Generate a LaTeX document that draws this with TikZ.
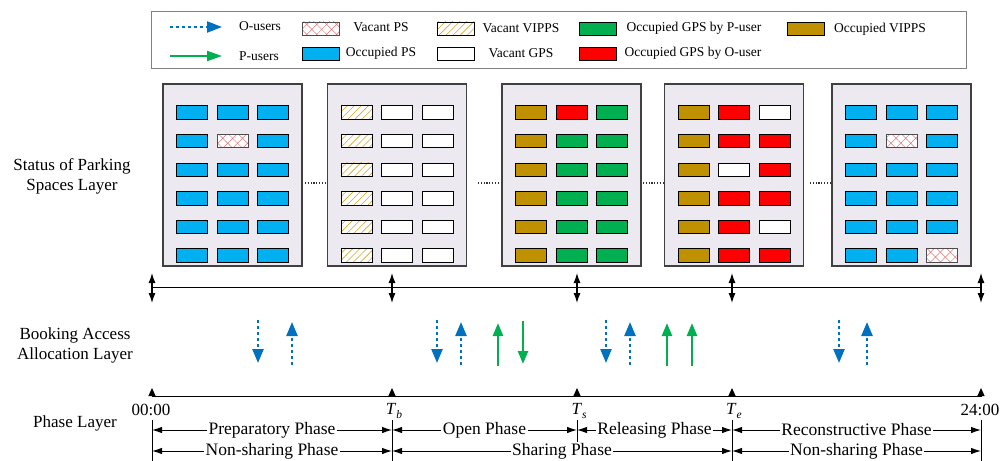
\documentclass[tikz,border=0pt]{standalone}
\usepackage{fontspec}
\setmainfont{Liberation Serif}
\usetikzlibrary{arrows.meta,patterns.meta}
\definecolor{psblue}{HTML}{00B0F0}
\definecolor{ugreen}{HTML}{00B050}
\definecolor{ured}{HTML}{FF0000}
\definecolor{vipgold}{HTML}{BF9000}
\definecolor{oblue}{HTML}{0070C0}
\definecolor{panelbg}{HTML}{ECE9F1}
\definecolor{hatchred}{HTML}{E07A7A}
\definecolor{hatchgold}{HTML}{D4A52C}

\tikzset{
  slot/.style={draw=black, line width=0.9pt, minimum width=31pt, minimum height=13.5pt, inner sep=0pt, outer sep=0pt},
  OP/.style={slot, fill=psblue},
  VP/.style={slot, draw=black!70, preaction={fill=white}, pattern={Hatch[angle=45,distance=7pt,line width=0.5pt]}, pattern color=hatchred},
  VV/.style={slot, preaction={fill=white}, pattern={Lines[angle=45,distance=5pt,line width=0.6pt]}, pattern color=hatchgold},
  VG/.style={slot, fill=white},
  GP/.style={slot, fill=ugreen},
  GO/.style={slot, fill=ured},
  OV/.style={slot, fill=vipgold},
  swatch/.style={minimum width=37pt, minimum height=13pt},
  panel/.style={draw=black!75, line width=1.1pt, fill=panelbg, minimum width=139pt, minimum height=182pt, inner sep=0pt},
  legtext/.style={font=\fontsize{13.5}{16}\selectfont, inner sep=0pt},
  lbl/.style={font=\fontsize{17}{20}\selectfont, align=center, inner sep=0pt},
  ptext/.style={font=\fontsize{17.5}{20}\selectfont, fill=white, inner sep=1.5pt},
  odash/.style={oblue, line width=2.4pt, dash pattern=on 3pt off 3pt, -{Triangle[length=14pt,width=11pt]}},
  pgreen/.style={ugreen, line width=2.4pt, -{Triangle[length=13pt,width=10pt]}},
  vtick/.style={black, line width=1.2pt, {Latex[length=10pt,width=7pt]}-{Latex[length=10pt,width=7pt]}},
  utick/.style={black, line width=1pt, -{Triangle[length=8pt,width=7pt]}},
  phasearr/.style={line width=1pt, {Latex[length=10pt,width=6.5pt]}-{Latex[length=10pt,width=6.5pt]}},
  dotline/.style={line width=1.3pt, dash pattern=on 1.2pt off 1.6pt, black!80},
}

\newcommand\parkpanel[3]{%
  \node[panel] (#1) at (#2,175) {};
  \foreach \s [count=\i from 0] in {#3}{
    \pgfmathtruncatemacro\rowi{(\i+0.5)/3}
    \pgfmathtruncatemacro\coli{mod(\i,3)}
    \node[\s] (#1-\i) at ({#2+(\coli-1)*40.5},{112.5+28.6*\rowi}) {};
  }%
}

\begin{document}
\begin{tikzpicture}[x=1pt,y=-1pt]
\useasboundingbox (0,0) rectangle (1000,460);
\clip (0,0) rectangle (1000,460);

% ---------- legend ----------
\node[draw=black!50, line width=1pt, minimum width=815pt, minimum height=56pt, inner sep=0pt] (legend) at (558.5,40) {};
\coordinate (lo1) at (170,27); \coordinate (lo2) at (222,27);
\draw[odash, line width=2.2pt, -{Triangle[length=15pt,width=11pt]}] (lo1) -- (lo2);
\node[legtext] (lot) at (260,26) {O-users};
\coordinate (lp1) at (170,56); \coordinate (lp2) at (222,56);
\draw[pgreen, line width=2.2pt, -{Triangle[length=15pt,width=10pt]}] (lp1) -- (lp2);
\node[legtext] (lpt) at (259,56) {P-users};

\node[VP, swatch] (s1) at (320.5,28.5) {};
\node[legtext] (t1) at (381,27) {Vacant PS};
\node[OP, swatch] (s2) at (320.5,53.5) {};
\node[legtext] (t2) at (381,53) {Occupied PS};
\node[VV, swatch] (s3) at (455.5,28.5) {};
\node[legtext] (t3) at (521,28) {Vacant VIPPS};
\node[VG, swatch] (s4) at (455.5,53.5) {};
\node[legtext] (t4) at (521,53) {Vacant GPS};
\node[GP, swatch] (s5) at (598,28.5) {};
\node[legtext] (t5) at (694,28) {Occupied GPS by P-user};
\node[GO, swatch] (s6) at (598,53.5) {};
\node[legtext] (t6) at (693,53) {Occupied GPS by O-user};
\node[OV, swatch] (s7) at (805.5,29) {};
\node[legtext] (t7) at (880,29) {Occupied VIPPS};

% ---------- parking panels ----------
\parkpanel{p1}{232.5}{OP,OP,OP,OP,VP,OP,OP,OP,OP,OP,OP,OP,OP,OP,OP,OP,OP,OP}
\parkpanel{p2}{397}{VV,VG,VG,VV,VG,VG,VV,VG,VG,VV,VG,VG,VV,VG,VG,VV,VG,VG}
\parkpanel{p3}{571.5}{OV,GO,GP,OV,GP,GP,OV,GP,GP,OV,GP,GP,OV,GP,GP,OV,GP,GP}
\parkpanel{p4}{734}{OV,GO,VG,OV,GO,GO,OV,VG,GO,OV,GO,GO,OV,GO,VG,OV,GO,GO}
\parkpanel{p5}{901.5}{OP,OP,OP,OP,VP,OP,OP,OP,OP,OP,OP,OP,OP,OP,OP,OP,OP,VP}

\coordinate (d1a) at (305,183); \coordinate (d1b) at (325,183);
\coordinate (d2a) at (478,183); \coordinate (d2b) at (498,183);
\coordinate (d3a) at (643,183); \coordinate (d3b) at (663,183);
\coordinate (d4a) at (810,183); \coordinate (d4b) at (830,183);
\draw[dotline] (d1a) -- (d1b);
\draw[dotline] (d2a) -- (d2b);
\draw[dotline] (d3a) -- (d3b);
\draw[dotline] (d4a) -- (d4b);

% ---------- layer labels ----------
\node[lbl] (lay1) at (72,176) {Status of Parking\\Spaces Layer};
\node[lbl] (lay2) at (75,345) {Booking Access\\Allocation Layer};
\node[lbl] (lay3) at (75,423) {Phase Layer};

% ---------- top timeline ----------
\coordinate (a0) at (152,288);
\coordinate (a24) at (981,288);
\draw[black, line width=2.6pt] (a0) -- (a24);
\draw[white, line width=0.8pt] (a0) -- (a24);
\foreach \n/\x in {a0/152,ab/392,as/577,ae/732,a24/981}{
  \coordinate (\n-u) at (\x,273);
  \coordinate (\n-d) at (\x,303);
  \draw[vtick] (\n-u) -- (\n-d);
}

% ---------- booking arrows ----------
\foreach \x [count=\k] in {258,437,606,839}{
  \coordinate (bd\k-s) at (\x,320); \coordinate (bd\k-e) at (\x,363);
  \draw[odash] (bd\k-s) -- (bd\k-e);
}
\foreach \x [count=\k] in {292,461,630,867}{
  \coordinate (bu\k-s) at (\x,365); \coordinate (bu\k-e) at (\x,322);
  \draw[odash] (bu\k-s) -- (bu\k-e);
}
\foreach \x [count=\k] in {498,667,692}{
  \coordinate (gu\k-s) at (\x,366); \coordinate (gu\k-e) at (\x,323);
  \draw[pgreen] (gu\k-s) -- (gu\k-e);
}
\coordinate (gd1-s) at (523,321); \coordinate (gd1-e) at (523,364);
\draw[pgreen] (gd1-s) -- (gd1-e);

% ---------- phase timeline ----------
\foreach \n/\x in {b0/152,bb/392,bs/577,be/732,b24/981}{
  \coordinate (\n) at (\x,396);
  \coordinate (\n-t) at (\x,388);
  \coordinate (\n-h) at (\x,420);
  \coordinate (\n-r1) at (\x,430);
  \coordinate (\n-r2) at (\x,451);
  \coordinate (\n-l) at (\x,470);
}
\draw[line width=1pt] (b0) -- (b24);
\foreach \n in {b0,bb,bs,be,b24}{ \draw[utick] (\n) -- (\n-t); }

\node[lbl] (tl0) at (151,409.5) {00:00};
\node[lbl] (tlb) at (394,411) {\textit{T}\raisebox{-0.45ex}{\fontsize{11.5}{11}\selectfont\textit{b}}};
\node[lbl] (tls) at (579,411) {\textit{T}\raisebox{-0.45ex}{\fontsize{11.5}{11}\selectfont\textit{s}}};
\node[lbl] (tle) at (734,411) {\textit{T}\raisebox{-0.45ex}{\fontsize{11.5}{11}\selectfont\textit{e}}};
\node[lbl] (tl24) at (980,409.5) {24:00};

\foreach \n in {b0,bb,be,b24}{ \draw[line width=1pt] (\n-h) -- (\n-l); }
\coordinate (bs-m) at (577,443);
\draw[line width=1pt] (bs-h) -- (bs-m);

\draw[phasearr] (b0-r1) -- node[ptext] (ph1) {Preparatory Phase} (bb-r1);
\draw[phasearr] (bb-r1) -- node[ptext] (ph2) {Open Phase} (bs-r1);
\draw[phasearr] (bs-r1) -- node[ptext] (ph3) {Releasing Phase} (be-r1);
\draw[phasearr] (be-r1) -- node[ptext] (ph4) {Reconstructive Phase} (b24-r1);

\draw[phasearr] (b0-r2) -- node[ptext] (ph5) {Non-sharing Phase} (bb-r2);
\draw[phasearr] (bb-r2) -- node[ptext] (ph6) {Sharing Phase} (be-r2);
\draw[phasearr] (be-r2) -- node[ptext] (ph7) {Non-sharing Phase} (b24-r2);
\end{tikzpicture}
\end{document}
